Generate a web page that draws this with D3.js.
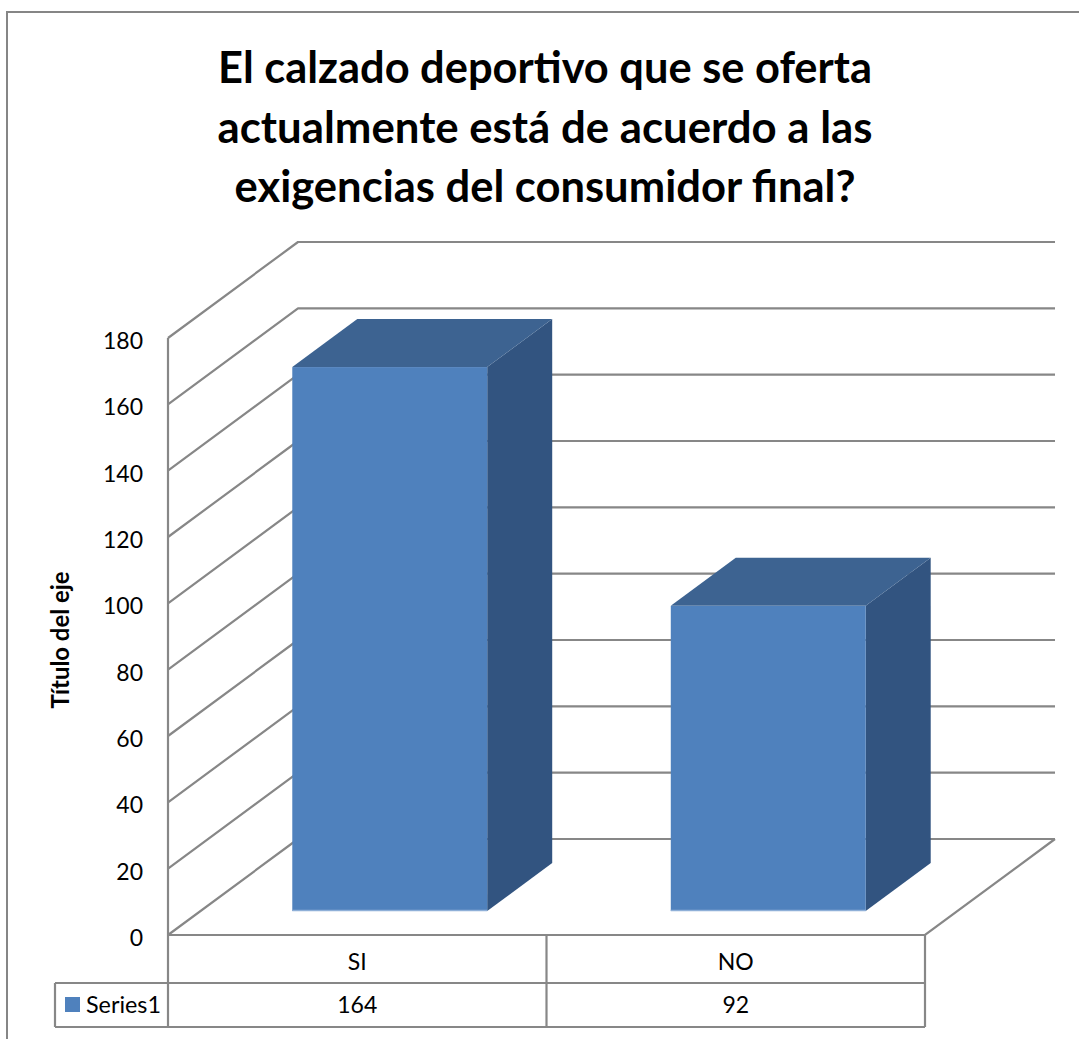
<!DOCTYPE html>
<html>
<head>
<meta charset="utf-8">
<script src="https://cdn.jsdelivr.net/npm/d3@7"></script>
<style>
  html, body { margin: 0; padding: 0; background: #ffffff; }
  svg { display: block; }
</style>
</head>
<body>
<svg id="chart" width="1079" height="1039"></svg>
<script>
// ---- data ----
const titleLines = [
  "El calzado deportivo que se oferta",
  "actualmente está de acuerdo a las",
  "exigencias del consumidor final?"
];
const categories = ["SI", "NO"];
const seriesName = "Series1";
const values = [164, 92];
const yTicks = [0, 20, 40, 60, 80, 100, 120, 140, 160, 180];
const yAxisTitle = "Título del eje";

// ---- layout ----
const W = 1079, H = 1039;
const svg = d3.select("#chart");
const FONT = "Lato, 'Open Sans', sans-serif";
const grid = "#878787";
const LBL = 23;

const x0 = 168, x1 = 925;         // front floor edge
const depthX = 130, depthY = -96; // depth vector of the 3D box
const y = d3.scaleLinear().domain([0, 180]).range([935, 338]);
const x = d3.scaleBand().domain(categories).range([x0, x1])
  .paddingInner(0.485).paddingOuter(0.2425);
const xCat = d3.scaleBand().domain(categories).range([x0, x1]);

const P = (xf, v, t) => [xf + depthX * t, y(v) + depthY * t];

// outer border
svg.append("rect").attr("x", 7).attr("y", 12).attr("width", W + 20).attr("height", H + 20)
  .attr("fill", "none").attr("stroke", "#868686").attr("stroke-width", 2);

// title
function fitText(sel, target) {
  const w = sel.node().getComputedTextLength();
  const fs = parseFloat(sel.attr("font-size"));
  sel.attr("font-size", fs * target / w);
}
const titleTargets = [654, 655, 621];
const titleBase = [83, 143, 202];
titleLines.forEach((t, i) => {
  const tx = svg.append("text").attr("x", 545).attr("y", titleBase[i])
    .attr("text-anchor", "middle").attr("font-family", FONT).attr("font-weight", "bold")
    .attr("font-size", 40).attr("fill", "#000").text(t);
  fitText(tx, titleTargets[i]);
});

const g = svg.append("g");
const line = d3.line();

// left wall gridlines + back wall gridlines
yTicks.forEach(v => {
  const a = P(x0, v, 0), b = P(x0, v, 1), c = P(x1, v, 1);
  g.append("path").attr("d", line([a, b, c])).attr("fill", "none")
    .attr("stroke", grid).attr("stroke-width", 2.2).attr("stroke-linejoin", "round");
});
// floor outline
g.append("path").attr("d", line([P(x0, 0, 0), P(x1, 0, 0), P(x1, 0, 1)]))
  .attr("fill", "none").attr("stroke", grid).attr("stroke-width", 2.2);
// front vertical axis line (continues into the data table)
g.append("line").attr("x1", x0).attr("x2", x0).attr("y1", y(180)).attr("y2", 1027)
  .attr("stroke", grid).attr("stroke-width", 2.2);

// tick labels
yTicks.forEach(v => {
  g.append("text").attr("x", 143).attr("y", y(v) + 3).attr("dy", "0.35em")
    .attr("text-anchor", "end").attr("font-family", FONT).attr("font-size", LBL)
    .attr("fill", "#000").text(v);
});

// axis title
const at = svg.append("text").attr("transform", "translate(69,640) rotate(-90)")
  .attr("text-anchor", "middle").attr("font-family", FONT).attr("font-weight", "bold")
  .attr("font-size", 17).attr("fill", "#000").text(yAxisTitle);
fitText(at, 137);

// bars
const t0 = 0.25, t1 = 0.75;
const colFront = "#4F81BD", colTop = "#3D6391", colSide = "#325480";
categories.forEach((c, i) => {
  const v = values[i];
  const L = x(c), R = x(c) + x.bandwidth();
  const bar = g.append("g");
  // side face
  bar.append("path").attr("d", line([P(R, 0, t0), P(R, 0, t1), P(R, v, t1), P(R, v, t0)]) + "Z")
    .attr("fill", colSide);
  // top face
  bar.append("path").attr("d", line([P(L, v, t0), P(R, v, t0), P(R, v, t1), P(L, v, t1)]) + "Z")
    .attr("fill", colTop);
  // front face
  const a = P(L, v, t0), b = P(R, 0, t0);
  bar.append("rect").attr("x", a[0]).attr("y", a[1]).attr("width", b[0] - a[0])
    .attr("height", b[1] - a[1]).attr("fill", colFront);
  bar.append("line").attr("x1", a[0]).attr("x2", b[0]).attr("y1", b[1] - 0.5).attr("y2", b[1] - 0.5)
    .attr("stroke", "#8fb0d8").attr("stroke-width", 1.5);
});

// data table
const tb = svg.append("g");
const rowTop = y(0), rowMid = 983, rowBot = 1027, legL = 55;
[[x0, rowMid, x1, rowMid], [legL, rowMid, x0, rowMid], [legL, rowBot, x1, rowBot],
 [legL, rowMid, legL, rowBot], [x1, rowTop, x1, rowBot]].forEach(d => {
  tb.append("line").attr("x1", d[0]).attr("y1", d[1]).attr("x2", d[2]).attr("y2", d[3])
    .attr("stroke", grid).attr("stroke-width", 2.2);
});
categories.forEach((c, i) => {
  if (i > 0) {
    tb.append("line").attr("x1", xCat(c)).attr("x2", xCat(c)).attr("y1", rowTop).attr("y2", rowBot)
      .attr("stroke", grid).attr("stroke-width", 2.2);
  }
  const cx = xCat(c) + xCat.bandwidth() / 2;
  tb.append("text").attr("x", cx).attr("y", 962).attr("dy", "0.35em").attr("text-anchor", "middle")
    .attr("font-family", FONT).attr("font-size", LBL).attr("fill", "#000").text(c);
  tb.append("text").attr("x", cx).attr("y", 1005).attr("dy", "0.35em").attr("text-anchor", "middle")
    .attr("font-family", FONT).attr("font-size", LBL).attr("fill", "#000").text(values[i]);
});
tb.append("rect").attr("x", 65).attr("y", 997).attr("width", 15).attr("height", 15).attr("fill", colFront);
const st = tb.append("text").attr("x", 86).attr("y", 1005).attr("dy", "0.35em")
  .attr("font-family", FONT).attr("font-size", LBL).attr("fill", "#000").text(seriesName);
fitText(st, 75);
</script>
</body>
</html>
